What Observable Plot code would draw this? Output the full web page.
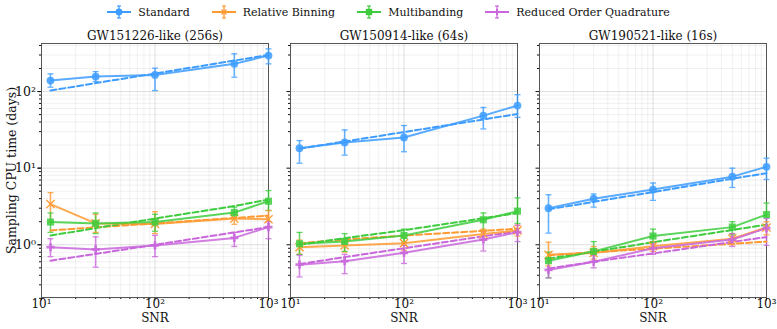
<!DOCTYPE html>
<html><head><meta charset="utf-8">
<script src="https://cdn.jsdelivr.net/npm/d3@7"></script>
<script src="https://cdn.jsdelivr.net/npm/@observablehq/plot@0.6"></script>
<style>
body{margin:0;background:#fff;font-family:"DejaVu Serif",serif;}
#legend{height:24px;display:flex;justify-content:center;align-items:center;gap:22px;font-size:11px;color:#111;padding-left:0px;}
#legend span.item{display:flex;align-items:center;gap:7px;}
#chart svg{display:block;}
</style></head><body>
<div id="legend"></div><div id="chart"></div>
<script>
// ---- data ----
const snr = [12, 30, 100, 500, 1000];
const panels = ["GW151226-like (256s)", "GW150914-like (64s)", "GW190521-like (16s)"];
const methods = ["Standard", "Relative Binning", "Multibanding", "Reduced Order Quadrature"];
const colors = ["#3d9cff", "#ff9a30", "#3dcc3d", "#c966dc"];
const xTicks = [10, 100, 1000];
const yTicks = [1, 10, 100];

// panel 1: GW151226-like
const p1Std = [139, 157, 165, 230, 295], p1StdLo = [114, 135, 103, 154, 230], p1StdHi = [170, 182, 202, 311, 361], p1StdFit = [103, 129, 172, 254, 300];
const p1RB = [3.4, 1.9, 1.87, 2.2, 2.15], p1RBLo = [1.98, 1.45, 1.4, 1.85, 1.7], p1RBHi = [4.8, 2.5, 2.7, 2.6, 2.8], p1RBFit = [1.54, 1.69, 1.9, 2.24, 2.4];
const p1MB = [1.98, 1.9, 1.98, 2.63, 3.7], p1MBLo = [1.45, 1.4, 1.5, 2.2, 2.8], p1MBHi = [2.6, 2.6, 2.5, 3.1, 5.1], p1MBFit = [1.32, 1.65, 2.2, 3.2, 3.9];
const p1ROQ = [0.93, 0.87, 0.98, 1.23, 1.7], p1ROQLo = [0.7, 0.51, 0.7, 0.95, 1.2], p1ROQHi = [1.2, 1.27, 1.33, 1.45, 2.0], p1ROQFit = [0.62, 0.76, 1.0, 1.45, 1.7];
// panel 2: GW150914-like
const p2Std = [18.2, 21.7, 25.2, 48.5, 65.6], p2StdLo = [11.6, 14.8, 16.4, 32.5, 46], p2StdHi = [22.9, 31.6, 36, 62, 91], p2StdFit = [18, 22.3, 29.6, 43.2, 51];
const p2RB = [0.93, 0.98, 1.05, 1.38, 1.54], p2RBLo = [0.75, 0.8, 0.85, 1.15, 1.3], p2RBHi = [1.15, 1.2, 1.25, 1.6, 1.8], p2RBFit = [1.05, 1.17, 1.32, 1.52, 1.62];
const p2MB = [1.03, 1.1, 1.32, 2.12, 2.75], p2MBLo = [0.75, 0.82, 1.08, 1.55, 1.9], p2MBHi = [1.45, 1.4, 1.6, 2.6, 4.1], p2MBFit = [1.0, 1.22, 1.55, 2.22, 2.6];
const p2ROQ = [0.55, 0.61, 0.785, 1.17, 1.46], p2ROQLo = [0.38, 0.42, 0.57, 0.83, 1.1], p2ROQHi = [0.73, 0.75, 0.98, 1.5, 1.8], p2ROQFit = [0.56, 0.69, 0.9, 1.29, 1.5];
// panel 3: GW190521-like
const p3Std = [3.0, 4.0, 5.25, 7.75, 10.4], p3StdLo = [1.42, 3.1, 3.8, 5.6, 7.1], p3StdHi = [4.5, 4.6, 6.4, 10, 13.5], p3StdFit = [2.9, 3.64, 4.87, 7.3, 8.6];
const p3RB = [0.74, 0.78, 0.96, 1.2, 1.68], p3RBLo = [0.53, 0.65, 0.82, 1.0, 1.35], p3RBHi = [1.08, 0.95, 1.1, 1.4, 2.0], p3RBFit = [0.73, 0.8, 0.89, 1.03, 1.1];
const p3MB = [0.62, 0.82, 1.3, 1.7, 2.48], p3MBLo = [0.37, 0.6, 1.1, 1.35, 1.7], p3MBHi = [0.8, 1.1, 1.6, 2.0, 3.5], p3MBFit = [0.66, 0.81, 1.08, 1.56, 1.83];
const p3ROQ = [0.47, 0.6, 0.9, 1.17, 1.65], p3ROQLo = [0.37, 0.5, 0.75, 0.95, 0.98], p3ROQHi = [0.65, 0.72, 1.05, 1.4, 2.2], p3ROQFit = [0.49, 0.6, 0.77, 1.09, 1.26];

const series = [
  [panels[0], methods[0], p1Std, p1StdLo, p1StdHi, p1StdFit],
  [panels[0], methods[1], p1RB, p1RBLo, p1RBHi, p1RBFit],
  [panels[0], methods[2], p1MB, p1MBLo, p1MBHi, p1MBFit],
  [panels[0], methods[3], p1ROQ, p1ROQLo, p1ROQHi, p1ROQFit],
  [panels[1], methods[0], p2Std, p2StdLo, p2StdHi, p2StdFit],
  [panels[1], methods[1], p2RB, p2RBLo, p2RBHi, p2RBFit],
  [panels[1], methods[2], p2MB, p2MBLo, p2MBHi, p2MBFit],
  [panels[1], methods[3], p2ROQ, p2ROQLo, p2ROQHi, p2ROQFit],
  [panels[2], methods[0], p3Std, p3StdLo, p3StdHi, p3StdFit],
  [panels[2], methods[1], p3RB, p3RBLo, p3RBHi, p3RBFit],
  [panels[2], methods[2], p3MB, p3MBLo, p3MBHi, p3MBFit],
  [panels[2], methods[3], p3ROQ, p3ROQLo, p3ROQHi, p3ROQFit],
];
const rows = [];
for (const [panel, method, y, lo, hi, fit] of series)
  snr.forEach((s, i) => rows.push({panel, method, snr: s, y: y[i], lo: lo[i], hi: hi[i], fit: fit[i]}));

// ---- helpers ----
const supMap = {"0":"⁰","1":"¹","2":"²","3":"³","-":"⁻"};
const sup = d => "10" + String(Math.round(Math.log10(d))).split("").map(c => supMap[c]).join("");
const minorX = [];
for (const b of [10, 100]) for (let k = 2; k <= 9; k++) minorX.push(b * k);
const minorY = [];
for (const b of [0.1, 1, 10, 100]) for (let k = 2; k <= 9; k++) { const v = +(b * k).toPrecision(3); if (v >= 0.2 && v <= 425) minorY.push(v); }
const capSymbol = { draw(ctx, size) { const r = Math.sqrt(size / Math.PI); ctx.moveTo(-r, 0); ctx.lineTo(r, 0); } };
const font = "DejaVu Serif, serif";

const byMethod = m => rows.filter(d => d.method === m);

const chart = Plot.plot({
  width: 777, height: 305,
  marginLeft: 40, marginRight: 11, marginTop: 19, marginBottom: 32,
  style: {fontFamily: font, fontSize: "11px", color: "#111", background: "#fff"},
  x: {type: "log", domain: [10, 1000], label: null},
  y: {type: "log", domain: [0.205, 424], label: null},
  fx: {domain: panels, paddingInner: 0.09, paddingOuter: 0, label: null},
  color: {domain: methods, range: colors},
  marks: [
    Plot.gridX(minorX, {stroke: "#000", strokeOpacity: 0.06}),
    Plot.gridY(minorY, {stroke: "#000", strokeOpacity: 0.06}),
    Plot.gridX([100], {stroke: "#000", strokeOpacity: 0.13}),
    Plot.gridY(yTicks, {stroke: "#000", strokeOpacity: 0.13}),
    Plot.axisFx({anchor: "top", label: null, tickSize: 0, tickPadding: 4, fontSize: 12}),
    Plot.axisX({ticks: xTicks, tickFormat: sup, tickSize: 3.5, tickPadding: -1.5, fontSize: 12, label: null}),
    Plot.axisX({ticks: minorX, tickFormat: () => "", tickSize: 2, label: null}),
    Plot.axisY({ticks: yTicks, tickFormat: sup, tickSize: 3.5, tickPadding: 2, fontSize: 12.5,
      label: "Sampling CPU time (days)", labelAnchor: "center", labelArrow: "none", labelOffset: 34}),
    Plot.axisY({ticks: minorY, tickFormat: () => "", tickSize: 2, label: null, facetAnchor: null}),
    Plot.axisY({ticks: yTicks, tickFormat: () => "", tickSize: 3.5, label: null, facetAnchor: null}),
    Plot.text(["SNR"], {frameAnchor: "bottom", dy: 24.5, fontSize: 12, fill: "#111"}),
    Plot.frame({stroke: "#555", strokeWidth: 1}),
    // error bars
    Plot.ruleX(rows, {x: "snr", y1: "lo", y2: "hi", fx: "panel", stroke: "method", strokeWidth: 1.6, strokeOpacity: 0.8}),
    Plot.dot(rows, {x: "snr", y: "lo", fx: "panel", stroke: "method", symbol: capSymbol, r: 3, strokeWidth: 1.3, strokeOpacity: 0.8}),
    Plot.dot(rows, {x: "snr", y: "hi", fx: "panel", stroke: "method", symbol: capSymbol, r: 3, strokeWidth: 1.3, strokeOpacity: 0.8}),
    // fits
    Plot.line(rows, {x: "snr", y: "fit", fx: "panel", z: "method", stroke: "method", strokeWidth: 2, strokeDasharray: "6,3"}),
    // data
    Plot.line(rows, {x: "snr", y: "y", fx: "panel", z: "method", stroke: "method", strokeWidth: 2, strokeOpacity: 0.85}),
    Plot.dot(byMethod(methods[0]), {x: "snr", y: "y", fx: "panel", fill: "method", r: 3.9, fillOpacity: 0.85}),
    Plot.dot(byMethod(methods[1]), {x: "snr", y: "y", fx: "panel", stroke: "method", symbol: "times", r: 3.8, strokeWidth: 1.3}),
    Plot.dot(byMethod(methods[2]), {x: "snr", y: "y", fx: "panel", fill: "method", symbol: "square", r: 4, fillOpacity: 0.85}),
    Plot.dot(byMethod(methods[3]), {x: "snr", y: "y", fx: "panel", fill: "method", symbol: "cross", r: 3.4, fillOpacity: 0.85}),
  ]
});
document.getElementById("chart").append(chart);

// ---- legend ----
const legend = document.getElementById("legend");
const shapes = [
  '<circle cx="12" cy="7" r="3.4" fill="C"/>',
  '<path d="M9.5,4.5L14.5,9.5M9.5,9.5L14.5,4.5" stroke="C" stroke-width="1.3"/>',
  '<rect x="8.8" y="3.8" width="6.4" height="6.4" fill="C"/>',
  '<path d="M12,4V10M9,7H15" stroke="C" stroke-width="2"/>'
];
methods.forEach((m, i) => {
  const c = colors[i];
  const el = document.createElement("span");
  el.className = "item";
  el.innerHTML = `<svg width="24" height="14"><line x1="0" x2="24" y1="7" y2="7" stroke="${c}" stroke-width="2"/>` +
    `<line x1="12" x2="12" y1="1" y2="13" stroke="${c}" stroke-width="1.3"/>` +
    `<line x1="10" x2="14" y1="1" y2="1" stroke="${c}" stroke-width="1.2"/><line x1="10" x2="14" y1="13" y2="13" stroke="${c}" stroke-width="1.2"/>` +
    shapes[i].replace(/C/g, c) + `</svg><span>${m}</span>`;
  legend.append(el);
});
</script>
</body></html>
